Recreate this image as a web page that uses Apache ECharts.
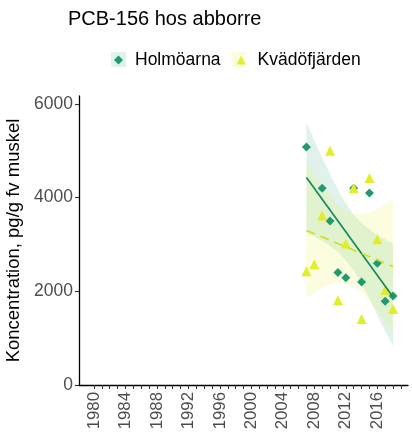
<!DOCTYPE html>
<html>
<head>
<meta charset="utf-8">
<script src="https://cdn.jsdelivr.net/npm/echarts@6/dist/echarts.min.js"></script>
<style>
  html, body { margin: 0; padding: 0; background: #fff; }
  #chart { width: 412px; height: 435px; }
</style>
</head>
<body>
<div id="chart"></div>
<script>
// PCB-156 in perch muscle, two stations
var holmYears = [2007, 2009, 2010, 2011, 2012, 2013, 2014, 2015, 2016, 2017, 2018];
var holmVals  = [5080, 4200, 3500, 2400, 2290, 4200, 2200, 4100, 2600, 1790, 1900];

var kvYears = [2007, 2008, 2009, 2010, 2011, 2012, 2013, 2014, 2015, 2016, 2017, 2018];
var kvVals  = [2430, 2580, 3620, 5000, 1810, 3020, 4200, 1410, 4420, 3110, 2030, 1620];

// fitted trend end points
var holmTrendYears = [2007, 2018];
var holmTrendVals  = [4430, 1880];
var kvTrendYears   = [2007, 2018];
var kvTrendVals    = [3300, 2530];

// confidence bands around the trends
var bandYears = [2007, 2008, 2009, 2010, 2011, 2012, 2013, 2014, 2015, 2016, 2017, 2018];
var holmLo = [3250, 3170, 3080, 2970, 2840, 2660, 2440, 2160, 1840, 1490, 1150, 830];
var holmHi = [5600, 5220, 4850, 4500, 4170, 3880, 3640, 3460, 3320, 3200, 3110, 3020];
var kvLo   = [1860, 1970, 2070, 2150, 2190, 2180, 2110, 1980, 1800, 1580, 1340, 1090];
var kvHi   = [4740, 4490, 4250, 4040, 3850, 3720, 3650, 3640, 3690, 3760, 3860, 3970];

var xTickYears = [];
for (var y = 1980; y <= 2019; y++) xTickYears.push(y);
var xLabelYears = [1980, 1984, 1988, 1992, 1996, 2000, 2004, 2008, 2012, 2016];
var yTicks = [0, 2000, 4000, 6000];

var FONT = '"Liberation Sans", Arial, Helvetica, sans-serif';
var HOLM = '#1f9b6d', HOLM_LINE = '#168a5c', HOLM_FILL = 'rgba(27,158,119,0.13)';
var KV = '#e1ee2a', KV_LINE = '#cfe01f', KV_FILL = 'rgba(230,240,48,0.16)';

function pairs(xs, ys) { return xs.map(function (x, i) { return [x, ys[i]]; }); }
function bandRows(lo, hi) { return bandYears.map(function (x, i) { return [x, lo[i], hi[i]]; }); }

function bandSeries(rows, fill) {
  return {
    type: 'custom',
    silent: true,
    z: 1,
    data: rows,
    encode: { x: 0, y: [1, 2] },
    renderItem: function (params, api) {
      if (params.dataIndex !== 0) return null;
      var pts = [];
      for (var i = 0; i < rows.length; i++) pts.push(api.coord([rows[i][0], rows[i][2]]));
      for (var j = rows.length - 1; j >= 0; j--) pts.push(api.coord([rows[j][0], rows[j][1]]));
      return { type: 'polygon', shape: { points: pts }, style: { fill: fill, stroke: null } };
    }
  };
}

var chart = echarts.init(document.getElementById('chart'), null, { renderer: 'canvas' });
chart.setOption({
  animation: false,
  backgroundColor: '#fff',
  title: {
    text: 'PCB-156 hos abborre',
    left: 68, top: 9, padding: 0,
    textStyle: { fontFamily: FONT, fontSize: 20, fontWeight: 'normal', color: '#000' }
  },
  legend: {
    left: 114, top: 51, padding: 0,
    itemWidth: 9, itemHeight: 9, itemGap: 16,
    data: [
      { name: 'Holmöarna', icon: 'diamond' },
      { name: 'Kvädöfjärden', icon: 'triangle' }
    ],
    textStyle: { fontFamily: FONT, fontSize: 17.5, color: '#000', padding: [0, 0, 0, 7] }
  },
  graphic: [
    { type: 'rect', z: -1, shape: { x: 111, y: 52, width: 15, height: 15 }, style: { fill: '#e1f2ed' } },
    { type: 'rect', z: -1, shape: { x: 231.5, y: 52, width: 15, height: 15 }, style: { fill: '#fbfde0' } }
  ],
  grid: { left: 79, right: 4, top: 96, bottom: 50, outerBoundsMode: 'none', containLabel: false },
  xAxis: {
    type: 'value', min: 1978.1, max: 2019.9,
    axisLine: { show: true, lineStyle: { color: '#000', width: 1.3 } },
    axisTick: { show: true, length: 4, customValues: xTickYears, lineStyle: { color: '#333', width: 1.1 } },
    axisLabel: {
      customValues: xLabelYears, rotate: 90, margin: 7,
      fontFamily: FONT, fontSize: 16.8, color: '#4d4d4d',
      formatter: function (v) { return String(v); }
    },
    splitLine: { show: false }
  },
  yAxis: {
    type: 'value', min: 0, max: 6170,
    name: 'Koncentration, pg/g fv muskel',
    nameLocation: 'middle', nameGap: 48, nameRotate: 90,
    nameTextStyle: { fontFamily: FONT, fontSize: 18.5, color: '#000' },
    axisLine: { show: true, lineStyle: { color: '#000', width: 1.3 } },
    axisTick: { show: true, length: 4, customValues: yTicks, lineStyle: { color: '#333', width: 1.1 } },
    axisLabel: {
      customValues: yTicks, margin: 6, fontFamily: FONT, fontSize: 17.5, color: '#4d4d4d',
      formatter: function (v) { return String(v); }
    },
    splitLine: { show: false }
  },
  series: [
    bandSeries(bandRows(holmLo, holmHi), HOLM_FILL),
    bandSeries(bandRows(kvLo, kvHi), KV_FILL),
    {
      name: 'Holmöarna', type: 'scatter', z: 3,
      symbol: 'diamond', symbolSize: 9,
      itemStyle: { color: HOLM, opacity: 1 },
      data: pairs(holmYears, holmVals)
    },
    {
      name: 'Kvädöfjärden', type: 'scatter', z: 4,
      symbol: 'triangle', symbolSize: 10,
      itemStyle: { color: KV, opacity: 1 },
      data: pairs(kvYears, kvVals)
    },
    {
      name: 'holmTrend', type: 'line', z: 5, symbol: 'none', silent: true,
      lineStyle: { color: HOLM_LINE, width: 1.7, type: 'solid' },
      data: pairs(holmTrendYears, holmTrendVals)
    },
    {
      name: 'kvTrend', type: 'line', z: 5, symbol: 'none', silent: true,
      lineStyle: { color: KV_LINE, width: 1.7, type: [9, 6] },
      data: pairs(kvTrendYears, kvTrendVals)
    }
  ]
});
</script>
</body>
</html>
